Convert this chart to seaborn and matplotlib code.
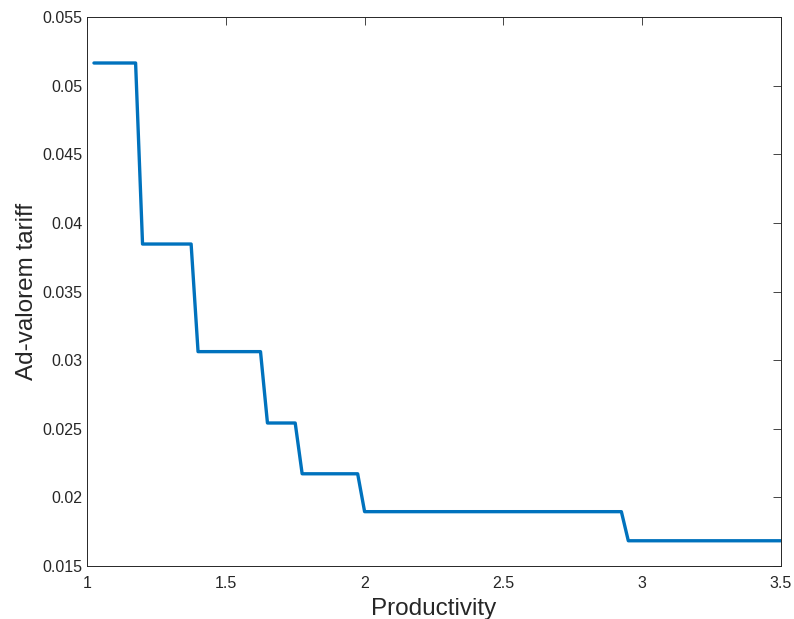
import numpy as np
import pandas as pd
import matplotlib
matplotlib.use("Agg")
import matplotlib.pyplot as plt
import seaborn as sns

# 생산성에 따른 종가세율 (계단형)
productivity = [1.025, 1.175, 1.2, 1.375, 1.4, 1.625, 1.65, 1.75, 1.775,
                1.975, 2.0, 2.925, 2.95, 3.5]
tariff = [0.05165, 0.05165, 0.03846, 0.03846, 0.03062, 0.03062, 0.02542,
          0.02542, 0.02172, 0.02172, 0.01896, 0.01896, 0.01684, 0.01684]

x_ticks = [1, 1.5, 2, 2.5, 3, 3.5]
x_tick_labels = ['1', '1.5', '2', '2.5', '3', '3.5']
y_ticks = [0.015, 0.02, 0.025, 0.03, 0.035, 0.04, 0.045, 0.05, 0.055]
y_tick_labels = ['0.015', '0.02', '0.025', '0.03', '0.035', '0.04',
                 '0.045', '0.05', '0.055']

df = pd.DataFrame({'Productivity': productivity, 'Tariff': tariff})

sns.set_style("white")
plt.rcParams['font.family'] = ['Liberation Sans', 'DejaVu Sans']

fig = plt.figure(figsize=(7.94, 6.19), dpi=100)
ax = fig.add_axes([0.1096, 0.0856, 0.874, 0.8869])

sns.lineplot(data=df, x='Productivity', y='Tariff', sort=False,
             color='#0072BD', linewidth=2.4, ax=ax)

ax.set_xlim(1, 3.5)
ax.set_ylim(0.015, 0.055)
ax.set_xticks(x_ticks)
ax.set_xticklabels(x_tick_labels)
ax.set_yticks(y_ticks)
ax.set_yticklabels(y_tick_labels)

# MATLAB 스타일 눈금
ax.tick_params(direction='in', length=5.5, width=0.6, colors='#262626',
               labelsize=11.5, top=True, right=True)
ax.tick_params(axis='x', pad=7)
ax.tick_params(axis='y', pad=3.5)
for s in ax.spines.values():
    s.set_color('#262626')
    s.set_linewidth(0.7)

ax.set_xlabel('Productivity', fontsize=17.5, color='#262626', labelpad=5)
ax.set_ylabel('Ad-valorem tariff', fontsize=17.5, color='#262626', labelpad=3)

fig.savefig('out.png', dpi=100)
